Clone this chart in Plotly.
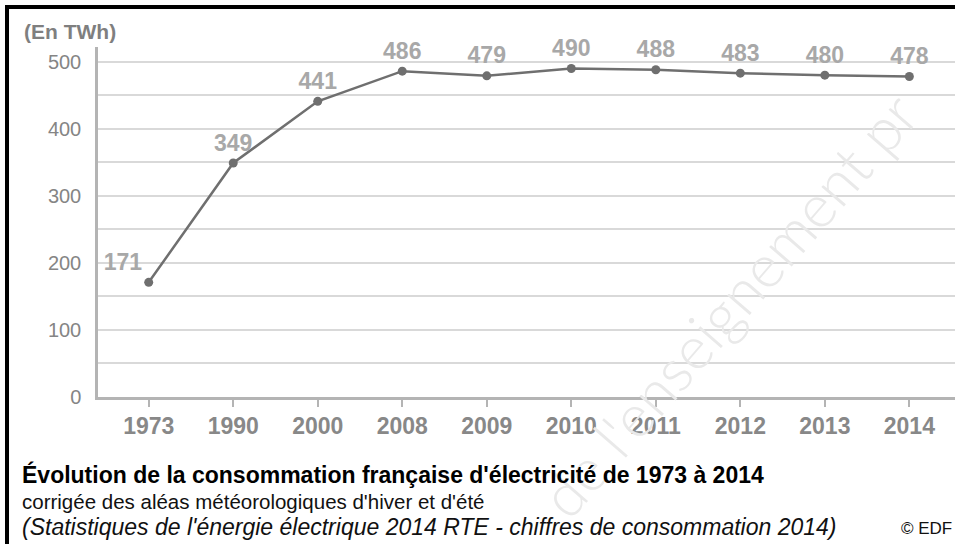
import plotly.graph_objects as go

# ---- data ----
years = ["1973", "1990", "2000", "2008", "2009", "2010", "2011", "2012", "2013", "2014"]
consumption = [171, 349, 441, 486, 479, 490, 488, 483, 480, 478]
unit_label = "(En TWh)"
title_line1 = "Évolution de la consommation française d'électricité de 1973 à 2014"
title_line2 = "corrigée des aléas météorologiques d'hiver et d'été"
title_line3 = "(Statistiques de l'énergie électrique 2014 RTE - chiffres de consommation 2014)"
credit = "© EDF"
watermark = "de l'enseignement pr"

# ---- layout geometry (pixels) ----
W, H = 955, 544
ML, MR, MT, MB = 98, 0, 47, 147
PW, PH = W - ML - MR, H - MT - MB


def px(x, y):
    """pixel (from top-left of page) -> paper coords"""
    return (x - ML) / PW, (H - MB - y) / PH


FONT = "Liberation Sans, Arial, sans-serif"
AXIS_COL = "#b4b4b4"
GRID_COL = "#d9d9d9"
LINE_COL = "#6f6f6f"
LABEL_COL = "#a8a8a8"

text_pos = ["top left"] + ["top center"] * (len(years) - 1)

fig = go.Figure()
fig.add_trace(go.Scatter(
    x=years, y=consumption,
    mode="lines+markers+text",
    line=dict(color=LINE_COL, width=2.5),
    marker=dict(color=LINE_COL, size=9),
    text=[str(v) for v in consumption],
    textposition=text_pos,
    textfont=dict(family=FONT, size=23, color=LABEL_COL, weight="bold"),
    cliponaxis=False,
    showlegend=False,
    hoverinfo="x+y",
))

xr = [-0.6, 9.54]
yr = [0, 522]

fig.update_layout(
    width=W, height=H,
    margin=dict(l=ML, r=MR, t=MT, b=MB),
    paper_bgcolor="white", plot_bgcolor="white",
    showlegend=False,
    xaxis=dict(
        type="category", range=xr,
        showline=True, linecolor=AXIS_COL, linewidth=2.5,
        ticks="outside", ticklen=7, tickwidth=2, tickcolor=AXIS_COL,
        showgrid=False, zeroline=False,
        tickfont=dict(family=FONT, size=23, color="#888888", weight="bold"),
        fixedrange=True,
    ),
    xaxis2=dict(
        overlaying="x", anchor="y", type="linear", range=xr,
        tickmode="array", tickvals=list(range(len(years))),
        ticks="inside", ticklen=7, tickwidth=2, tickcolor=AXIS_COL,
        showticklabels=False, showgrid=False, showline=False, zeroline=False,
    ),
    yaxis=dict(
        range=yr, tick0=0, dtick=100,
        showline=True, linecolor=AXIS_COL, linewidth=2.5,
        ticks="", showgrid=True, gridcolor=GRID_COL, gridwidth=1.5,
        minor=dict(dtick=50, showgrid=True, gridcolor=GRID_COL, gridwidth=1.5),
        zeroline=False, ticklabelstandoff=10,
        tickfont=dict(family=FONT, size=20, color="#858585"),
        fixedrange=True,
    ),
    yaxis2=dict(
        overlaying="y", anchor="x", side="left", range=yr,
        tickmode="array", tickvals=[100, 200, 300, 400, 500],
        ticks="outside", ticklen=8, tickwidth=2, tickcolor=AXIS_COL,
        showticklabels=False, showgrid=False, showline=False, zeroline=False,
    ),
    yaxis3=dict(
        overlaying="y", anchor="x", side="left", range=yr,
        tickmode="array", tickvals=[100, 200, 300, 400, 500],
        ticks="inside", ticklen=9, tickwidth=2, tickcolor=AXIS_COL,
        showticklabels=False, showgrid=False, showline=False, zeroline=False,
    ),
)

annotations = []
# watermark
wx, wy = px(728, 305)
annotations.append(dict(
    x=wx, y=wy, xref="paper", yref="paper", text=watermark, showarrow=False,
    textangle=-49, font=dict(family="Lato, sans-serif", size=60, color="#e9e9e9", weight=300),
    xanchor="center", yanchor="middle",
))
# unit label
ux, uy = px(22, 32)
annotations.append(dict(
    x=ux, y=uy, xref="paper", yref="paper", text=unit_label, showarrow=False,
    xanchor="left", yanchor="middle",
    font=dict(family=FONT, size=21, color="#7f7f7f", weight="bold"),
))
# titles
for txt, ypix, size, bold, col in [
    (title_line1, 474, 23, True, "#000000"),
    (title_line2, 501, 20.5, False, "#111111"),
    ("<i>" + title_line3 + "</i>", 527, 23, False, "#111111"),
]:
    tx, ty = px(20, ypix)
    annotations.append(dict(
        x=tx, y=ty, xref="paper", yref="paper", text=txt, showarrow=False,
        xanchor="left", yanchor="middle",
        font=dict(family=FONT, size=size, color=col, weight="bold" if bold else "normal"),
    ))
cx, cy = px(954, 528)
annotations.append(dict(
    x=cx, y=cy, xref="paper", yref="paper", text=credit, showarrow=False,
    xanchor="right", yanchor="middle",
    font=dict(family=FONT, size=17, color="#111111"),
))
fig.update_layout(annotations=annotations)

# frame (top and left black border)
bx0, by0 = px(7, 7)
bx1, by1 = px(W + 5, H + 5)
fig.add_shape(type="line", xref="paper", yref="paper", x0=px(5, 0)[0], x1=bx1, y0=by0, y1=by0,
              line=dict(color="black", width=4))
fig.add_shape(type="line", xref="paper", yref="paper", x0=bx0, x1=bx0, y0=px(0, 5)[1], y1=by1,
              line=dict(color="black", width=4))

fig.write_html(
    "out.html",
    config={"displayModeBar": False},
    post_script="document.body.style.margin='0px';document.body.style.overflow='hidden';",
)
